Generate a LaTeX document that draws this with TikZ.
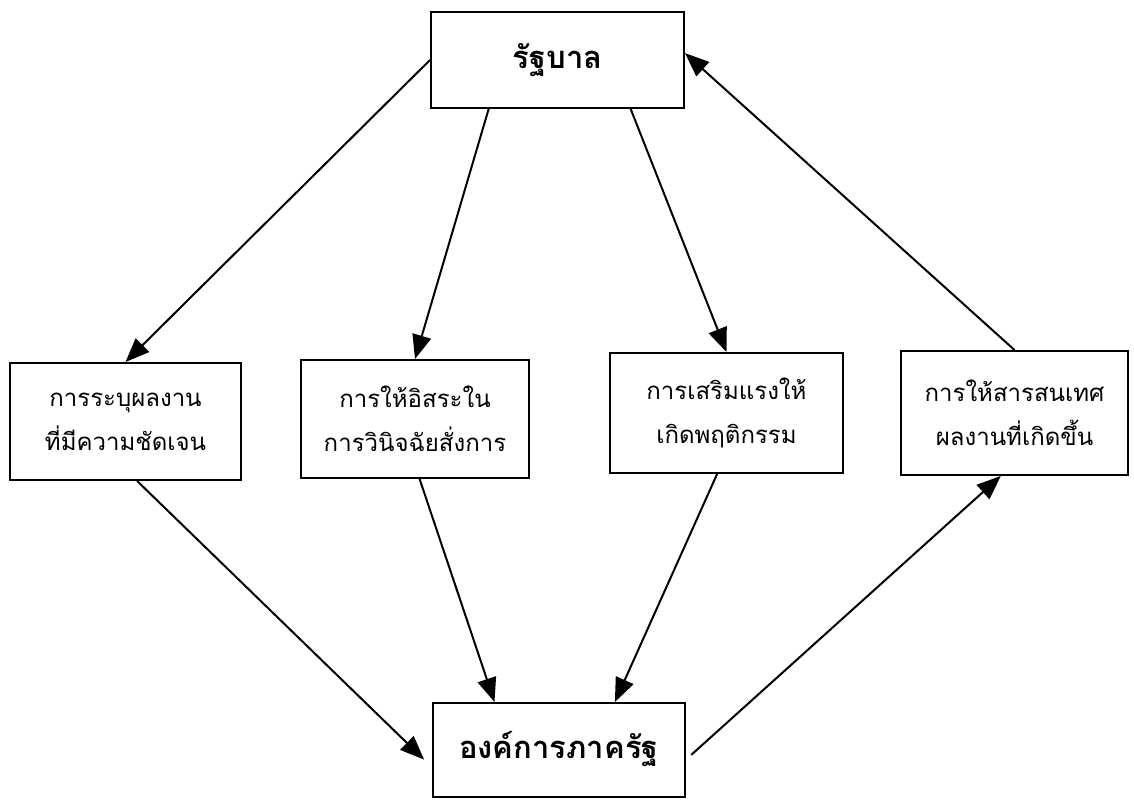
\documentclass[tikz,border=0pt]{standalone}
\usepackage{fontspec}
\newfontfamily\thaifont[Script=Thai]{Loma}
\usetikzlibrary{arrows.meta,calc}
\begin{document}
\begin{tikzpicture}[x=1pt,y=-1pt,
  box/.style={draw=black,line width=2pt,fill=white,align=center,inner sep=0pt,font=\thaifont\fontsize{24}{44}\selectfont},
  bigbox/.style={draw=black,line width=2pt,fill=white,align=center,inner sep=0pt,font=\thaifont\bfseries\fontsize{31}{36}\selectfont},
  arr/.style={line width=2pt,-{Triangle[length=24pt,width=19pt]}}]
\useasboundingbox (0,0) rectangle (1134,800);
\node[bigbox,minimum width=253pt,minimum height=96pt] (top) at (557.5,60) {รัฐบาล};
\node[bigbox,minimum width=252pt,minimum height=94pt] (bot) at (559,750) {\raisebox{10pt}{องค์การภาครัฐ}};
\node[box,minimum width=231pt,minimum height=117pt] (b1) at (125.5,421.5) {การระบุผลงาน\\ที่มีความชัดเจน};
\node[box,minimum width=228pt,minimum height=118pt] (b2) at (415,419) {การให้อิสระใน\\การวินิจฉัยสั่งการ};
\node[box,minimum width=233pt,minimum height=120pt] (b3) at (726.5,413) {การเสริมแรงให้\\เกิดพฤติกรรม};
\node[box,minimum width=227pt,minimum height=124pt] (b4) at (1014.5,413) {การให้สารสนเทศ\\ผลงานที่เกิดขึ้น};
% from government
\draw[arr] (top.west) -- (b1.north);
\draw[arr] ($(top.south west)!0.23!(top.south east)$) -- (b2.north);
\draw[arr] ($(top.south west)!0.787!(top.south east)$) -- (b3.north);
\draw[arr] (b4.north) -- ($(top.north east)!0.43!(top.south east)$);
% to public organisation
\draw[arr,shorten >=11pt] ($(b1.south west)!0.55!(b1.south east)$) -- ($(bot.north west)!0.68!(bot.south west)$);
\draw[arr] ($(b2.south west)!0.52!(b2.south east)$) -- ($(bot.north west)!0.246!(bot.north east)$);
\draw[arr] ($(b3.south west)!0.46!(b3.south east)$) -- ($(bot.north west)!0.72!(bot.north east)$);
\draw[arr,shorten <=7pt] ($(bot.north east)!0.6!(bot.south east)$) -- ($(b4.south west)!0.44!(b4.south east)$);
\end{tikzpicture}
\end{document}
